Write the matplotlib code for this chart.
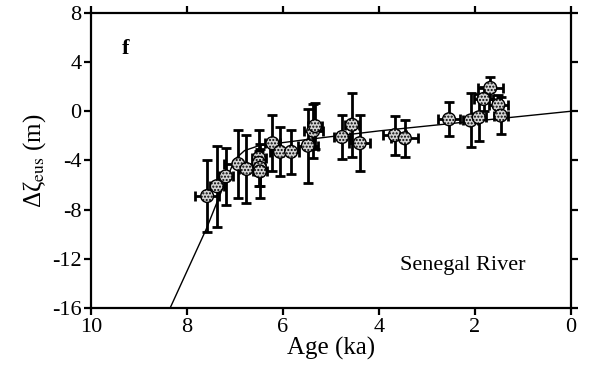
import numpy as np
import matplotlib
matplotlib.use('Agg')
import matplotlib.pyplot as plt

plt.rcParams['font.family'] = ['Liberation Serif', 'DejaVu Serif']
plt.rcParams['mathtext.fontset'] = 'stix'
plt.rcParams['axes.unicode_minus'] = False
plt.rcParams['hatch.color'] = '#4d4d4d'
plt.rcParams['hatch.linewidth'] = 1.0

# model curve
model_age = [0.0, 2.0, 4.0, 5.5, 6.5, 6.8, 7.0, 7.25, 7.6, 8.35]
model_dz = [0.0, -0.8, -1.6, -2.3, -2.8, -3.2, -3.9, -6.2, -9.6, -16.0]

# Senegal River data points
age = [7.58, 7.38, 7.19, 6.93, 6.76, 6.50, 6.50, 6.48, 6.48, 6.22, 6.06, 5.83,
       5.48, 5.37, 5.33, 4.77, 4.56, 4.40, 3.67, 3.46, 2.54, 2.09, 1.92, 1.82,
       1.68, 1.51, 1.46]
dz = [-6.9, -6.1, -5.3, -4.3, -4.7, -3.8, -4.2, -4.6, -4.9, -2.6, -3.3, -3.3,
      -2.8, -1.6, -1.2, -2.1, -1.1, -2.6, -1.95, -2.2, -0.65, -0.75, -0.5, 1.0,
      1.9, 0.5, -0.35]
age_err = [0.25, 0.15, 0.15, 0.3, 0.15, 0.15, 0.1, 0.1, 0.15, 0.15, 0.2, 0.17,
           0.2, 0.2, 0.15, 0.17, 0.15, 0.22, 0.24, 0.28, 0.23, 0.15, 0.15, 0.2,
           0.26, 0.2, 0.15]
dz_err = [2.9, 3.3, 2.3, 2.8, 2.8, 2.3, 1.0, 1.5, 2.2, 2.3, 2.0, 1.8,
          3.0, 2.2, 1.9, 1.8, 2.6, 2.3, 1.6, 1.5, 1.4, 2.2, 1.9, 1.0,
          0.9, 0.8, 1.5]

fig = plt.figure(figsize=(5.91, 3.81), dpi=100)
ax = fig.add_axes([0.154, 0.192, 0.812, 0.774])

ax.plot(model_age, model_dz, color='black', lw=1.0, zorder=1)
ax.errorbar(age, dz, xerr=age_err, yerr=dz_err, fmt='none', ecolor='black',
            elinewidth=2.0, capsize=3.5, capthick=2.0, zorder=2)
ax.scatter(age, dz, s=85, facecolor='#d4d4d4', edgecolor='black',
           linewidths=1.0, hatch='.....', zorder=3)

ax.set_xlim(10, 0)
ax.set_ylim(-16, 8)
ax.set_xticks([10, 8, 6, 4, 2, 0])
ax.set_yticks([8, 4, 0, -4, -8, -12, -16])
ax.tick_params(direction='out', length=5, width=1.6, labelsize=16,
               top=True, right=True, pad=2)
for s in ax.spines.values():
    s.set_linewidth(1.6)

ax.set_xlabel('Age (ka)', fontsize=18, labelpad=0)
ax.set_ylabel(r'Δζ$_{\mathrm{eus}}$ (m)', fontsize=18, labelpad=3)

ax.text(0.065, 0.86, 'f', transform=ax.transAxes, fontsize=16,
        fontweight='bold')
ax.text(0.775, 0.13, 'Senegal River', transform=ax.transAxes, fontsize=16,
        ha='center')

fig.savefig('out.png', dpi=100)
